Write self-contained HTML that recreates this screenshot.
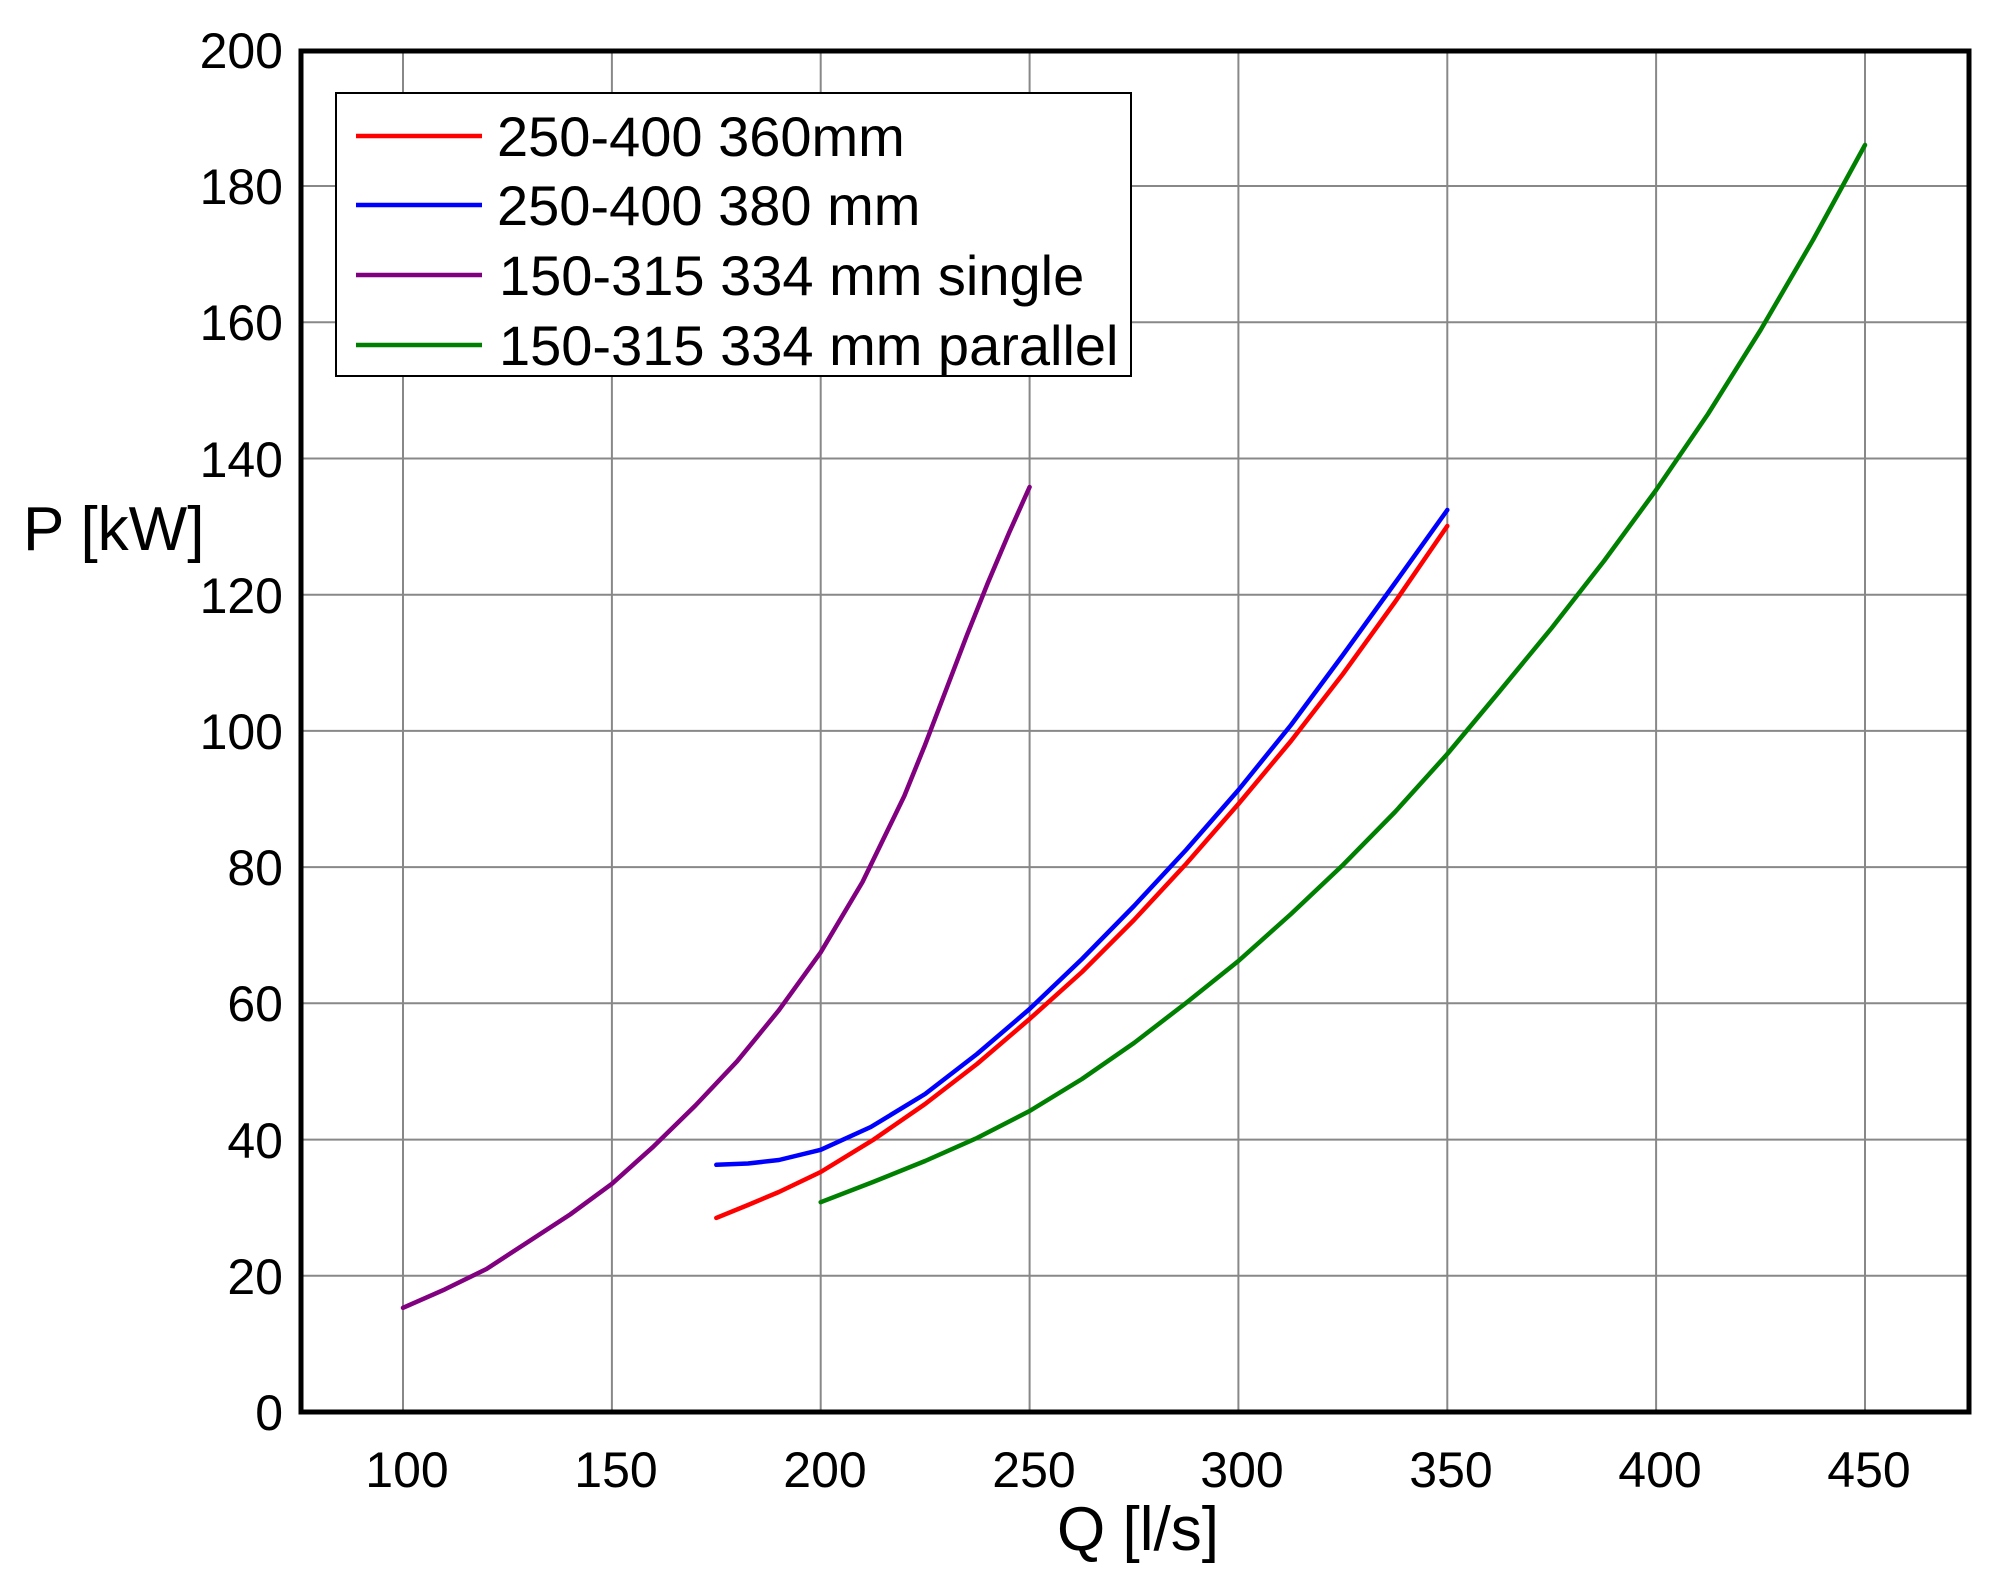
<!DOCTYPE html>
<html><head><meta charset="utf-8"><style>
html,body{margin:0;padding:0;background:#fff;}
svg{display:block;font-family:"Liberation Sans",Arial,sans-serif;}
</style></head><body>
<svg width="2011" height="1579" viewBox="0 0 2011 1579" xmlns="http://www.w3.org/2000/svg">
<rect width="2011" height="1579" fill="#fff"/>
<g stroke="#888" stroke-width="2">
<line x1="403" x2="403" y1="51" y2="1412"/>
<line x1="611.9" x2="611.9" y1="51" y2="1412"/>
<line x1="820.7" x2="820.7" y1="51" y2="1412"/>
<line x1="1029.6" x2="1029.6" y1="51" y2="1412"/>
<line x1="1238.4" x2="1238.4" y1="51" y2="1412"/>
<line x1="1447.3" x2="1447.3" y1="51" y2="1412"/>
<line x1="1656.1" x2="1656.1" y1="51" y2="1412"/>
<line x1="1865" x2="1865" y1="51" y2="1412"/>
<line x1="301" x2="1969" y1="1275.8" y2="1275.8"/>
<line x1="301" x2="1969" y1="1139.6" y2="1139.6"/>
<line x1="301" x2="1969" y1="1003.3" y2="1003.3"/>
<line x1="301" x2="1969" y1="867.1" y2="867.1"/>
<line x1="301" x2="1969" y1="730.9" y2="730.9"/>
<line x1="301" x2="1969" y1="594.7" y2="594.7"/>
<line x1="301" x2="1969" y1="458.5" y2="458.5"/>
<line x1="301" x2="1969" y1="322.2" y2="322.2"/>
<line x1="301" x2="1969" y1="186" y2="186"/>
</g>
<g fill="none" stroke-width="4.5" stroke-linejoin="round" stroke-linecap="round">
<polyline stroke="#800080" points="403,1307.8 444.8,1289.4 486.5,1269 528.3,1241.7 570.1,1214.5 611.9,1183.8 653.6,1146.4 695.4,1105.5 737.2,1061.2 778.9,1010.2 820.7,952.3 862.5,882 904.3,796 925,745 946,690 967,635 987.8,583 1009,533 1029.6,487"/>
<polyline stroke="#ff0000" points="716.3,1217.9 748,1205 778.9,1192 820.7,1172 873,1140 925.1,1104 977,1064 1029.6,1019 1082,972 1134,920 1186,864 1238.4,804 1291,741 1342.9,674 1395,602 1447.3,526"/>
<polyline stroke="#0000ff" points="716.3,1164.8 748,1163.5 778.9,1160 820.7,1149.8 870.8,1127 925.1,1094 977,1054 1029.6,1009 1082,959 1134,906 1186,850 1238.4,790 1291,725 1342.9,655 1395,583 1447.3,510"/>
<polyline stroke="#008000" points="820.7,1202.2 873,1182 925.1,1161 977,1138 1029.6,1111 1082,1079 1134,1043 1186,1003 1238.4,961 1291,914 1342.9,865 1395,812 1447.3,754 1499,692 1551.7,628 1604,561 1656.1,490 1708,414 1760.6,330 1813,240 1865,145"/>
</g>
<rect x="301" y="51" width="1668" height="1361" fill="none" stroke="#000" stroke-width="5"/>
<g font-size="50" fill="#000" text-anchor="middle">
<text x="407" y="1487">100</text>
<text x="616" y="1487">150</text>
<text x="825" y="1487">200</text>
<text x="1034" y="1487">250</text>
<text x="1242" y="1487">300</text>
<text x="1451" y="1487">350</text>
<text x="1660" y="1487">400</text>
<text x="1869" y="1487">450</text>
</g>
<g font-size="50" fill="#000" text-anchor="end">
<text x="283" y="1430">0</text>
<text x="283" y="1294">20</text>
<text x="283" y="1158">40</text>
<text x="283" y="1021">60</text>
<text x="283" y="885">80</text>
<text x="283" y="749">100</text>
<text x="283" y="613">120</text>
<text x="283" y="477">140</text>
<text x="283" y="340">160</text>
<text x="283" y="204">180</text>
<text x="283" y="68">200</text>
</g>
<text x="23" y="550" font-size="62">P [kW]</text>
<text x="1138" y="1550" font-size="62" text-anchor="middle">Q [l/s]</text>
<rect x="336" y="93" width="795" height="283" fill="#fff" stroke="#000" stroke-width="2"/>
<line x1="356" x2="482" y1="136" y2="136" stroke="#ff0000" stroke-width="4.5"/>
<line x1="356" x2="482" y1="205" y2="205" stroke="#0000ff" stroke-width="4.5"/>
<line x1="356" x2="482" y1="275" y2="275" stroke="#800080" stroke-width="4.5"/>
<line x1="356" x2="482" y1="345" y2="345" stroke="#008000" stroke-width="4.5"/>
<g font-size="56">
<text x="497" y="156">250-400 360mm</text>
<text x="497" y="225">250-400 380 mm</text>
<text x="499" y="295">150-315 334 mm single</text>
<text x="499" y="365">150-315 334 mm parallel</text>
</g>
</svg>
</body></html>
